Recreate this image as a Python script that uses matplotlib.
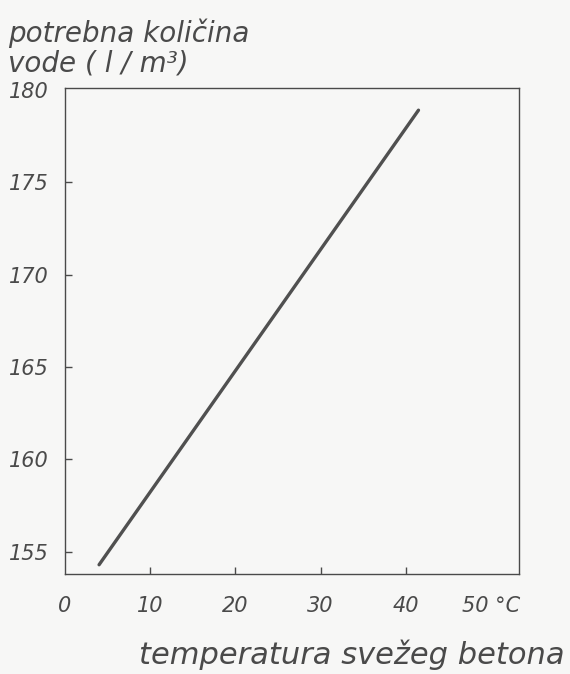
import matplotlib
matplotlib.use("Agg")
import matplotlib.pyplot as plt

# water demand vs. fresh concrete temperature
temperature = [4.0, 41.5]
water = [154.3, 178.9]

x_ticks = [0, 10, 20, 30, 40, 50]
x_tick_labels = ["0", "10", "20", "30", "40", "50 °C"]
y_ticks = [155, 160, 165, 170, 175, 180]
y_tick_labels = ["155", "160", "165", "170", "175", "180"]

ink = "#4a4a4a"
paper = "#f7f7f6"

fig = plt.figure(figsize=(5.7, 6.74), dpi=100, facecolor=paper)
ax = fig.add_axes([65 / 570, 1 - 574 / 674, (519 - 65) / 570, (574 - 88) / 674])
ax.set_facecolor(paper)

ax.plot(temperature, water, color="#505050", lw=2.4, solid_capstyle="round")

ax.set_xlim(0, 53.3)
ax.set_ylim(153.8, 180.1)

ax.set_xticks(x_ticks)
ax.set_xticklabels(x_tick_labels)
ax.set_yticks(y_ticks)
ax.set_yticklabels(y_tick_labels)

ax.tick_params(axis="both", direction="in", length=5, width=1.0, color=ink,
               labelsize=15, labelcolor=ink)
ax.tick_params(axis="x", pad=16)
ax.tick_params(axis="y", pad=12)
for lbl in ax.get_xticklabels() + ax.get_yticklabels():
    lbl.set_fontstyle("italic")

# the end ticks carry labels only
ax.yaxis.get_major_ticks()[-1].tick1line.set_visible(False)
ax.xaxis.get_major_ticks()[0].tick1line.set_visible(False)
ax.xaxis.get_major_ticks()[-1].tick1line.set_visible(False)

for s in ax.spines.values():
    s.set_color(ink)
    s.set_linewidth(1.0)

fig.text(8 / 570, 1 - 18 / 674, "potrebna količina\nvode ( l / m³)", ha="left", va="top",
         fontsize=20, style="italic", color=ink, linespacing=1.1)
fig.text(565 / 570, 1 - 655 / 674, "temperatura svežeg betona", ha="right", va="center",
         fontsize=22, style="italic", color=ink)

fig.savefig("out.png", dpi=100, facecolor=paper)
